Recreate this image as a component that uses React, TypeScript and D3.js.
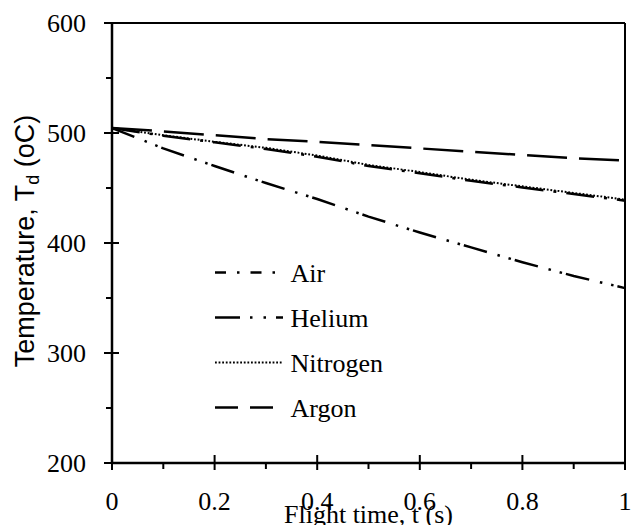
import * as d3 from 'd3'

// flight time, s
const times = [0, 0.1, 0.2, 0.3, 0.4, 0.5, 0.6, 0.7, 0.8, 0.9, 1.0]
// droplet temperature, oC
const air = [504.5, 497.5, 491.5, 485.5, 478.5, 470, 463.5, 456.5, 450.5, 444.5, 438.5]
const helium = [504.5, 486, 470, 454.5, 440, 424, 409.5, 396, 382.5, 370, 359]
const nitrogen = [504.5, 498, 492, 486.5, 479.5, 471, 464.5, 457.5, 451.5, 445.5, 439.5]
const argon = [504.5, 501.5, 498, 494.5, 492, 489, 486, 483, 480, 477, 475]

const xTicks = [0, 0.2, 0.4, 0.6, 0.8, 1]
const xMinor = [0.1, 0.3, 0.5, 0.7, 0.9]
const yTicks = [200, 300, 400, 500, 600]
const yMinor = [250, 350, 450, 550]

const seriesNames = ['Air', 'Helium', 'Nitrogen', 'Argon']
const seriesValues = [air, helium, nitrogen, argon]

// dash patterns: on the plot / in the legend
const plotDash = ['28 10 3 10', '24 11 2.5 9 2.5 4', '1.8 1.8', '40 12']
const legendDash = ['11 11 2.5 11', '25 10 2.5 11 2.5 10', '1.8 1.8', '23 12']
const legendLen = [60, 68, 68, 60]
const lineWidth = [2.5, 2.5, 2, 2.5]

const width = 638
const height = 525
const margin = { top: 23, right: 13, bottom: 62, left: 112 }

const serif = 'Liberation Serif'
const sans = 'Liberation Sans'

export default function App() {
  const x = d3.scaleLinear().domain([0, 1]).range([margin.left, width - margin.right])
  const y = d3.scaleLinear().domain([200, 600]).range([height - margin.bottom, margin.top])

  const line = d3.line<number>()
    .x((_, i) => x(times[i]))
    .y(d => y(d))

  const x0 = x(0), x1 = x(1), y0 = y(200), y1 = y(600)

  const serifStyle = { fontFamily: serif, fontSize: '26px' }

  return (
    <svg width={width} height={height}
      style={{ position: 'absolute', left: 0, top: 0, background: '#fff' }}>
      {/* data lines */}
      {seriesValues.map((vals, i) => (
        <path key={seriesNames[i]} d={line(vals) || ''} fill="none" stroke="#000"
          strokeWidth={lineWidth[i]} strokeDasharray={plotDash[i]} />
      ))}

      {/* frame */}
      <line x1={x0} x2={x1} y1={y1} y2={y1} stroke="#000" strokeWidth={2} />
      <line x1={x1} x2={x1} y1={y1} y2={y0 + 1} stroke="#000" strokeWidth={2} />
      <line x1={x0} x2={x1 + 1} y1={y0} y2={y0} stroke="#000" strokeWidth={2.5} />
      <line x1={x0} x2={x0} y1={y1} y2={y0 + 1} stroke="#000" strokeWidth={2.5} />

      {/* y ticks */}
      {yTicks.map(t => (
        <g key={'y' + t}>
          <line x1={x0 - 8} x2={x0 + 7} y1={y(t)} y2={y(t)} stroke="#000" strokeWidth={2} />
          <text x={86} y={y(t) + 8.5} textAnchor="end" style={serifStyle}>{t}</text>
        </g>
      ))}
      {yMinor.map(t => (
        <line key={'ym' + t} x1={x0 - 6} x2={x0} y1={y(t)} y2={y(t)} stroke="#000" strokeWidth={2} />
      ))}

      {/* x ticks */}
      {xTicks.map(t => (
        <g key={'x' + t}>
          <line x1={x(t)} x2={x(t)} y1={y0 - 8} y2={y0 + 7} stroke="#000" strokeWidth={2} />
          <text x={x(t)} y={510} textAnchor="middle" style={serifStyle}>{t}</text>
        </g>
      ))}
      {xMinor.map(t => (
        <line key={'xm' + t} x1={x(t)} x2={x(t)} y1={y0} y2={y0 + 6} stroke="#000" strokeWidth={2} />
      ))}

      {/* axis titles */}
      <text x={(x0 + x1) / 2} y={523} textAnchor="middle" style={serifStyle}>
        Flight time, t (s)
      </text>
      <text transform={`translate(34, 241) rotate(-90)`} textAnchor="middle"
        style={{ fontFamily: sans, fontSize: '27px' }}>
        Temperature, T<tspan style={{ fontSize: '18px' }} dy={5}>d</tspan><tspan dy={-5}> (oC)</tspan>
      </text>

      {/* legend */}
      {seriesNames.map((name, i) => {
        const ly = 272.5 + i * 45
        return (
          <g key={'lg' + name}>
            <line x1={215} x2={215 + legendLen[i]} y1={ly} y2={ly} stroke="#000"
              strokeWidth={lineWidth[i]} strokeDasharray={legendDash[i]} />
            <text x={290.5} y={ly + 9.5} style={serifStyle}>{name}</text>
          </g>
        )
      })}
    </svg>
  )
}
